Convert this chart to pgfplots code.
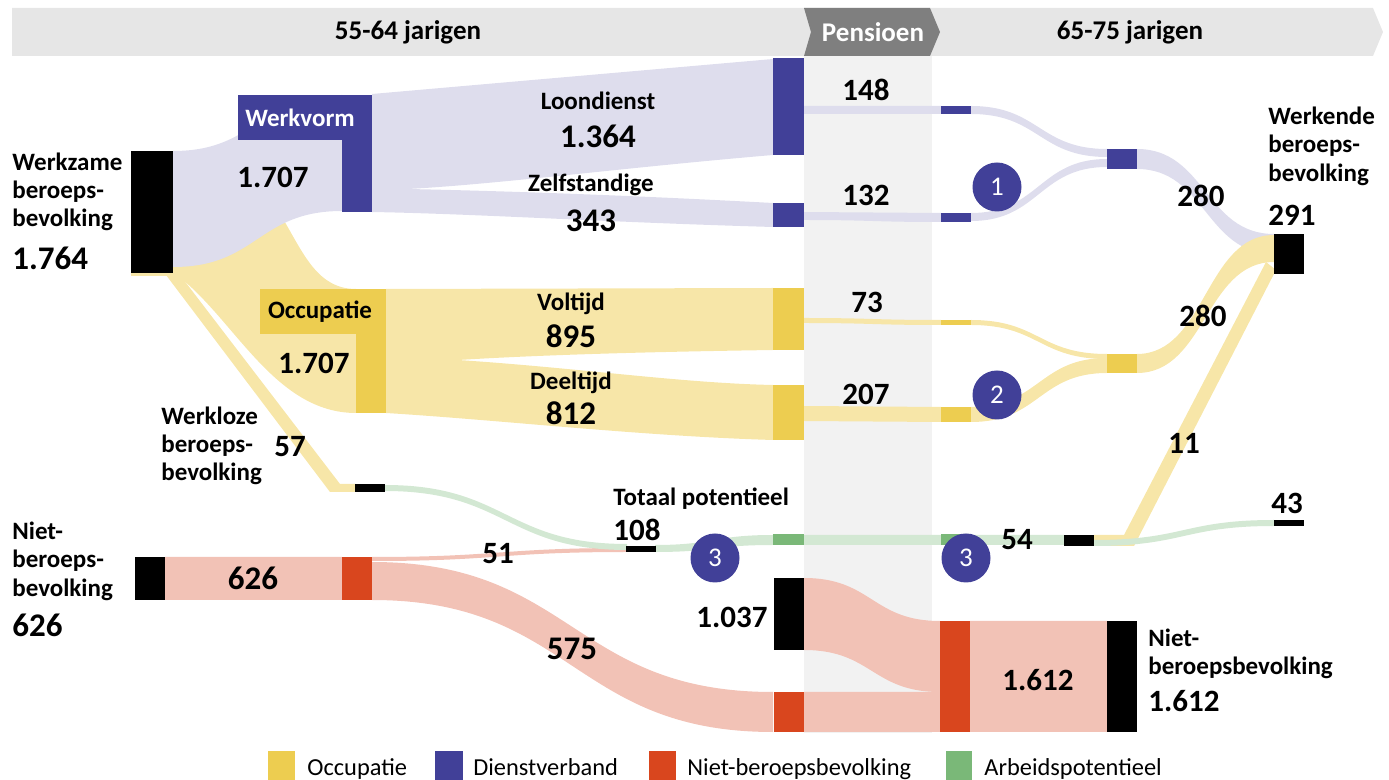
\documentclass[border=0pt]{standalone}
\usepackage{pgfplots}
\pgfplotsset{compat=1.18}
\usepackage{fontspec}
\setmainfont{Carlito}
\definecolor{dblue}{RGB}{65,64,152}
\definecolor{lblue}{RGB}{222,221,237}
\definecolor{dyel}{RGB}{237,205,80}
\definecolor{lyel}{RGB}{247,230,168}
\definecolor{dred}{RGB}{217,70,30}
\definecolor{lred}{RGB}{242,194,182}
\definecolor{dgreen}{RGB}{122,184,120}
\definecolor{lgreen}{RGB}{211,232,211}
\definecolor{hdr}{RGB}{230,230,230}
\definecolor{pens}{RGB}{127,127,127}
\definecolor{pband}{RGB}{242,242,242}
\newcommand{\lab}{\fontsize{12.5}{14}\selectfont\bfseries}
\newcommand{\reg}{\fontsize{12.2}{14}\selectfont}
\newcommand{\num}{\fontsize{15.5}{17}\selectfont\bfseries}
\newcommand{\bnum}{\fontsize{16.5}{18}\selectfont\bfseries}
\newcommand{\hdrf}{\fontsize{13.5}{15}\selectfont\bfseries}
% node rectangle: x1 y1 x2 y2 colour
\newcommand{\nd}[5]{\addplot[fill=#5,draw=none] coordinates {(#1,#2) (#3,#2) (#3,#4) (#1,#4)};}
% sankey flow: x1 top1 bot1 x2 top2 bot2 colour
\newcommand{\flow}[7]{\fill[#7] (axis cs:#1,#2) .. controls (axis cs:{(#1+#4)/2},#2) and (axis cs:{(#1+#4)/2},#5) .. (axis cs:#4,#5) -- (axis cs:#4,#6) .. controls (axis cs:{(#1+#4)/2},#6) and (axis cs:{(#1+#4)/2},#3) .. (axis cs:#1,#3) -- cycle;}
% number label centred: x y text font
\newcommand{\nl}[4]{\node[font=#4, inner sep=0] at (axis cs:#1,#2) {#3};}
\begin{document}
\begin{tikzpicture}
\begin{axis}[name=ax, width=694.5pt, height=390pt, scale only axis,
  xmin=0, xmax=1389, ymin=0, ymax=780, y dir=reverse, hide axis, clip=false]
% header
\addplot[fill=hdr,draw=none] coordinates {(12,8) (1373,8) (1383,32) (1373,56) (12,56)};
\addplot[fill=pband,draw=none] coordinates {(804,56) (932,56) (932,733) (804,733)};
\addplot[fill=pens,draw=none] coordinates {(804,8) (930,8) (940,32) (930,56) (804,56) (811,32)};
% flows left
\fill[lyel] (axis cs:173,151) .. controls (axis cs:300,151) and (axis cs:280,289) .. (axis cs:356,289) -- (axis cs:356,413) .. controls (axis cs:275,413) and (axis cs:235,320) .. (axis cs:178,276) -- (axis cs:131,276) -- (axis cs:131,272) -- (axis cs:173,272) -- cycle;
\flow{173}{151}{267}{342}{95}{211}{lblue}
\addplot[fill=lyel,draw=none] coordinates {(166,275) (180,275) (340,484) (356,484) (356,492) (330,492)};
% werkvorm / occupatie splits
\fill[lblue] (axis cs:372,94) -- (axis cs:773,59) -- (axis cs:773,155) .. controls (axis cs:620,168) and (axis cs:500,184) .. (axis cs:408,189) -- (axis cs:372,189) -- cycle;
\fill[lblue] (axis cs:372,188) -- (axis cs:408,189) .. controls (axis cs:550,192) and (axis cs:680,198) .. (axis cs:773,203) -- (axis cs:773,227) .. controls (axis cs:600,222) and (axis cs:480,214) .. (axis cs:372,212) -- cycle;
\fill[lyel] (axis cs:386,289) -- (axis cs:773,288) -- (axis cs:773,350) .. controls (axis cs:640,352) and (axis cs:540,355) .. (axis cs:458,360) -- (axis cs:386,360) -- cycle;
\fill[lyel] (axis cs:386,359) -- (axis cs:458,360) .. controls (axis cs:580,368) and (axis cs:680,383) .. (axis cs:773,385) -- (axis cs:773,440) .. controls (axis cs:640,436) and (axis cs:500,420) .. (axis cs:386,413) -- cycle;
% pensioen flows
\flow{804}{106}{114}{941}{106}{114}{lblue}
\flow{804}{212}{220}{941}{213}{222}{lblue}
\flow{804}{318}{323}{941}{320}{325}{lyel}
\flow{804}{406}{421}{941}{407}{422}{lyel}
\flow{804}{535}{545}{941}{535}{545}{lgreen}
\flow{804}{578}{650}{940}{621}{692}{lred}
\flow{804}{692}{732}{940}{692}{732}{lred}
% right flows
\flow{971}{106}{114}{1107}{149}{157}{lblue}
\flow{971}{213}{221}{1107}{159}{167}{lblue}
\flow{971}{320}{325}{1107}{354}{359}{lyel}
\flow{971}{407}{422}{1107}{358}{373}{lyel}
\flow{1137}{149}{169}{1274}{234}{254}{lblue}
\flow{1137}{354}{373}{1274}{235}{262}{lyel}
\addplot[fill=lyel,draw=none] coordinates {(1094,535) (1124,535) (1266,262) (1276,270) (1134,546) (1094,546)};
\flow{971}{535}{545}{1064}{535}{545}{lgreen}
\flow{1094}{540}{546}{1274}{520}{526}{lgreen}
\flow{970}{621}{732}{1107}{621}{732}{lred}
% green and red left
\flow{372}{557}{561}{627}{548}{552}{lred}
\flow{385}{485}{491}{627}{544}{550}{lgreen}
\flow{655}{545}{552}{773}{535}{545}{lgreen}
\flow{165}{557}{600}{342}{557}{600}{lred}
\flow{372}{562}{600}{773}{692}{732}{lred}
% nodes
\nd{131}{151}{173}{273}{black}
\nd{135}{557}{165}{600}{black}
\nd{342}{557}{372}{600}{dred}
\nd{238}{95}{365}{140}{dblue}
\nd{342}{95}{372}{212}{dblue}
\nd{260}{289}{386}{334}{dyel}
\nd{356}{289}{386}{413}{dyel}
\nd{355}{484}{385}{492}{black}
\nd{773}{58}{804}{155}{dblue}
\nd{773}{203}{804}{227}{dblue}
\nd{773}{288}{804}{350}{dyel}
\nd{773}{385}{804}{440}{dyel}
\nd{773}{534}{804}{545}{dgreen}
\nd{626}{546}{656}{552}{black}
\nd{774}{578}{804}{650}{black}
\nd{774}{692}{804}{732}{dred}
\nd{941}{106}{971}{114}{dblue}
\nd{941}{213}{971}{222}{dblue}
\nd{941}{320}{971}{325}{dyel}
\nd{941}{407}{971}{422}{dyel}
\nd{941}{534}{971}{545}{dgreen}
\nd{940}{621}{970}{732}{dred}
\nd{1107}{149}{1137}{169}{dblue}
\nd{1107}{354}{1137}{373}{dyel}
\nd{1274}{234}{1304}{274}{black}
\nd{1064}{535}{1094}{546}{black}
\nd{1274}{520}{1304}{526}{black}
\nd{1107}{621}{1137}{732}{black}
% legend squares
\nd{268}{751}{295}{781}{dyel}
\nd{435}{751}{463}{781}{dblue}
\nd{649}{751}{676}{781}{dred}
\nd{946}{751}{972}{781}{dgreen}
% circles
\foreach \cx/\cy/\t in {997/187/1, 997/395/2, 715/558/3, 966/558/3}{
  \edef\tmp{\noexpand\node[circle, fill=dblue, inner sep=0pt, minimum size=24.5pt, text=white, font=\noexpand\fontsize{13.5}{14}\noexpand\selectfont] at (axis cs:\cx,\cy) {\t};}\tmp
}
% header text
\node[font=\hdrf, inner sep=0] at (axis cs:408,32) {55-64 jarigen};
\node[font=\hdrf, text=white, inner sep=0] at (axis cs:873,32) {Pensioen};
\node[font=\hdrf, inner sep=0] at (axis cs:1130,32) {65-75 jarigen};
% left labels
\node[font=\lab, anchor=base west, inner sep=0] at (axis cs:12,171) {Werkzame};
\node[font=\lab, anchor=base west, inner sep=0] at (axis cs:12,199) {beroeps-};
\node[font=\lab, anchor=base west, inner sep=0] at (axis cs:12,227) {bevolking};
\node[font=\bnum, anchor=west, inner sep=0] at (axis cs:12,258) {1.764};
\node[font=\lab, text=white, anchor=base, inner sep=0] at (axis cs:300,127) {Werkvorm};
\nl{273}{177}{1.707}{\num}
\node[font=\lab, anchor=base, inner sep=0] at (axis cs:320,319) {Occupatie};
\nl{314}{363}{1.707}{\num}
\node[font=\lab, anchor=base west, inner sep=0] at (axis cs:161,425) {Werkloze};
\node[font=\lab, anchor=base west, inner sep=0] at (axis cs:161,453) {beroeps-};
\node[font=\lab, anchor=base west, inner sep=0] at (axis cs:161,481) {bevolking};
\nl{290}{447}{57}{\num}
\node[font=\lab, anchor=base west, inner sep=0] at (axis cs:12,540) {Niet-};
\node[font=\lab, anchor=base west, inner sep=0] at (axis cs:12,568) {beroeps-};
\node[font=\lab, anchor=base west, inner sep=0] at (axis cs:12,597) {bevolking};
\node[font=\bnum, anchor=west, inner sep=0] at (axis cs:12,625) {626};
\nl{253}{578}{626}{\bnum}
\nl{498}{554}{51}{\num}
\nl{572}{649}{575}{\bnum}
% middle labels
\node[font=\lab, anchor=base, inner sep=0] at (axis cs:598,110) {Loondienst};
\nl{598}{136}{1.364}{\bnum}
\node[font=\lab, anchor=base, inner sep=0] at (axis cs:591,192) {Zelfstandige};
\nl{591}{221}{343}{\bnum}
\node[font=\lab, anchor=base, inner sep=0] at (axis cs:571,311) {Voltijd};
\nl{571}{336}{895}{\bnum}
\node[font=\lab, anchor=base, inner sep=0] at (axis cs:571,390) {Deeltijd};
\nl{571}{413}{812}{\bnum}
\node[font=\lab, anchor=base west, inner sep=0] at (axis cs:613,506) {Totaal potentieel};
\node[font=\num, anchor=west, inner sep=0] at (axis cs:613,530) {108};
\node[font=\num, anchor=east, inner sep=0] at (axis cs:768,617) {1.037};
\nl{866}{90}{148}{\num}
\nl{866}{195}{132}{\num}
\nl{867}{302}{73}{\num}
\nl{866}{394}{207}{\num}
% right labels
\nl{1201}{196}{280}{\num}
\nl{1203}{316}{280}{\num}
\nl{1184}{443}{11}{\num}
\node[font=\num, anchor=west, inner sep=0] at (axis cs:1001,540) {54};
\nl{1287}{503}{43}{\num}
\node[font=\lab, anchor=base west, inner sep=0] at (axis cs:1268,125) {Werkende};
\node[font=\lab, anchor=base west, inner sep=0] at (axis cs:1268,153) {beroeps-};
\node[font=\lab, anchor=base west, inner sep=0] at (axis cs:1268,182) {bevolking};
\node[font=\num, anchor=west, inner sep=0] at (axis cs:1268,215) {291};
\nl{1038}{680}{1.612}{\num}
\node[font=\lab, anchor=base west, inner sep=0] at (axis cs:1148,647) {Niet-};
\node[font=\lab, anchor=base west, inner sep=0] at (axis cs:1148,675) {beroepsbevolking};
\node[font=\num, anchor=west, inner sep=0] at (axis cs:1148,701) {1.612};
% legend text
\node[font=\reg, anchor=base west, inner sep=0] at (axis cs:307,776) {Occupatie};
\node[font=\reg, anchor=base west, inner sep=0] at (axis cs:473,776) {Dienstverband};
\node[font=\reg, anchor=base west, inner sep=0] at (axis cs:687,776) {Niet-beroepsbevolking};
\node[font=\reg, anchor=base west, inner sep=0] at (axis cs:984,776) {Arbeidspotentieel};
\end{axis}
\pgfresetboundingbox
\path[use as bounding box] (ax.south west) rectangle (ax.north east);
\end{tikzpicture}
\end{document}
